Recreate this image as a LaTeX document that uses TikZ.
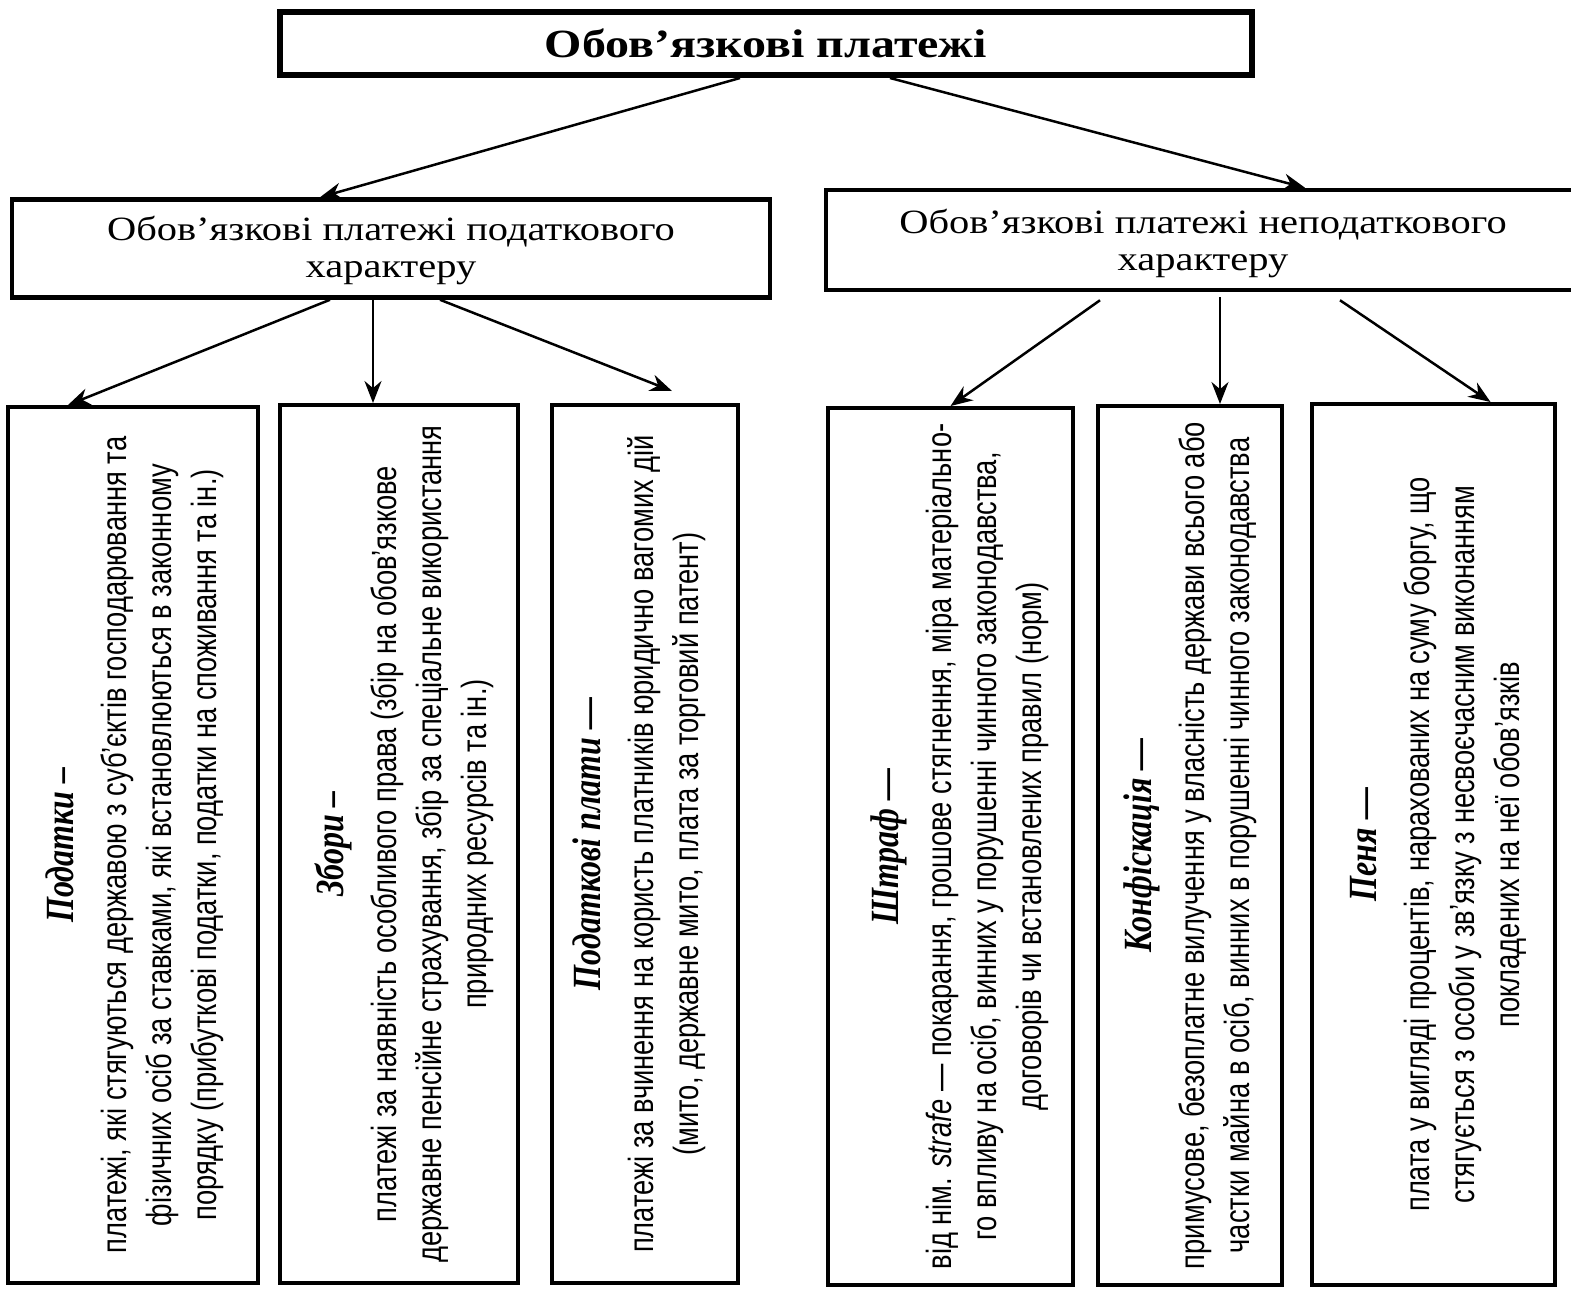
\documentclass[tikz,border=0pt]{standalone}
\usepackage{fontspec}
\setmainfont{Liberation Serif}
\newfontfamily\headfont[FakeStretch=1.19]{Liberation Serif}
\newfontfamily\topfont[FakeStretch=1.2]{Liberation Serif}
\newfontfamily\bodyfont[FakeStretch=0.78]{Liberation Sans}
\newfontfamily\ttlfont[FakeStretch=0.8]{Liberation Serif}
\usetikzlibrary{arrows.meta,calc}
\begin{document}
\begin{tikzpicture}[x=1pt,y=-1pt,
  topbox/.style={draw, line width=6pt, inner sep=0pt, minimum width=972pt, minimum height=63pt},
  midbox/.style={draw, line width=4.5pt, inner sep=0pt, minimum height=98pt},
  lowbox/.style={draw, line width=4pt, inner sep=0pt, minimum height=878pt},
  midtext/.style={align=center, font=\headfont\fontsize{34}{37}\selectfont},
  rottext/.style={rotate=90, align=center, inner sep=0pt, font=\bodyfont\fontsize{35}{45}\selectfont},
  arr/.style={-{Stealth[length=22pt,width=17pt]}, line width=2.5pt}]
\useasboundingbox (0,0) rectangle (1571,1294);
\clip (0,0) rectangle (1571,1294);
\fill[white] (0,0) rectangle (1571,1294);

% top
\node[topbox] (T) at (766,43.5) {};
\node[font=\topfont\bfseries\fontsize{40}{42}\selectfont] (Tt) at (T.center) {Обов’язкові платежі};

% middle
\node[midbox, minimum width=758pt] (L) at (391,248.5) {};
\node[midtext] (Lt) at ([yshift=-2pt]L.center) {Обов’язкові платежі податкового\\характеру};
\node[midbox, minimum width=754pt, minimum height=100pt] (R) at (1203,240) {};
\node[midtext] (Rt) at ([yshift=-3pt]R.center) {Обов’язкові платежі неподаткового\\характеру};

% bottom boxes
\node[lowbox, minimum width=250pt, minimum height=876pt] (b1) at (133,845) {};
\node[lowbox, minimum width=238pt] (b2) at (399,844) {};
\node[lowbox, minimum width=186pt] (b3) at (645,844) {};
\node[lowbox, minimum width=245pt, minimum height=877pt] (b4) at (950.5,846.5) {};
\node[lowbox, minimum width=184pt, minimum height=879pt] (b5) at (1190,845.5) {};
\node[lowbox, minimum width=243pt, minimum height=881pt] (b6) at (1433.5,844.5) {};

\newcommand{\ttl}[1]{{\ttlfont\bfseries\itshape\fontsize{40}{45}\selectfont #1}\\[8pt]}

\node[rottext] (t1) at ([xshift=2pt]b1.center) {\ttl{Податки –}
платежі, які стягуються державою з суб’єктів господарювання та\\
фізичних осіб за ставками, які встановлюються в законному\\
порядку (прибуткові податки, податки на споживання та ін.)};

\node[rottext] (t2) at ([xshift=5pt]b2.center) {\ttl{Збори –}
платежі за наявність особливого права (збір на обов’язкове\\
державне пенсійне страхування, збір за спеціальне використання\\
природних ресурсів та ін.)};

\node[rottext] (t3) at ([xshift=-6pt]b3.center) {\ttl{Податкові плати —}
платежі за вчинення на користь платників юридично вагомих дій\\
(мито, державне мито, плата за торговий патент)};

\node[rottext] (t4) at ([xshift=9pt]b4.center) {\ttl{Штраф —}
від нім. \textit{strafe} — покарання, грошове стягнення, міра матеріально-\\
го впливу на осіб, винних у порушенні чинного законодавства,\\
договорів чи встановлених правил (норм)};

\node[rottext] (t5) at ([xshift=0pt]b5.center) {\ttl{Конфіскація —}
примусове, безоплатне вилучення у власність держави всього або\\
частки майна в осіб, винних в порушенні чинного законодавства};

\node[rottext] (t6) at ([xshift=5pt]b6.center) {\ttl{Пеня —}
плата у вигляді процентів, нарахованих на суму боргу, що\\
стягується з особи у зв’язку з несвоєчасним виконанням\\
покладених на неї обов’язків};

% connectors
\draw[arr] ([xshift=-26pt]T.south) -- ([xshift=-71pt]L.north);
\draw[arr] ([xshift=124pt]T.south) -- ([xshift=102pt]R.north);

\draw[arr] ([xshift=-61pt]L.south) -- ([xshift=-65pt]b1.north);
\draw[arr] ([xshift=-18pt]L.south) -- ([xshift=-26pt]b2.north);
\draw[arr] ([xshift=49pt]L.south) -- ([xshift=27pt,yshift=12pt]b3.north);

\draw[arr] ([xshift=-103pt,yshift=-8pt]R.south) -- ([xshift=0pt]b4.north);
\draw[arr] ([xshift=17pt,yshift=-5pt]R.south) -- ([xshift=30pt]b5.north);
\draw[arr] ([xshift=137pt,yshift=-8pt]R.south) -- ([xshift=57pt]b6.north);
\end{tikzpicture}
\end{document}
